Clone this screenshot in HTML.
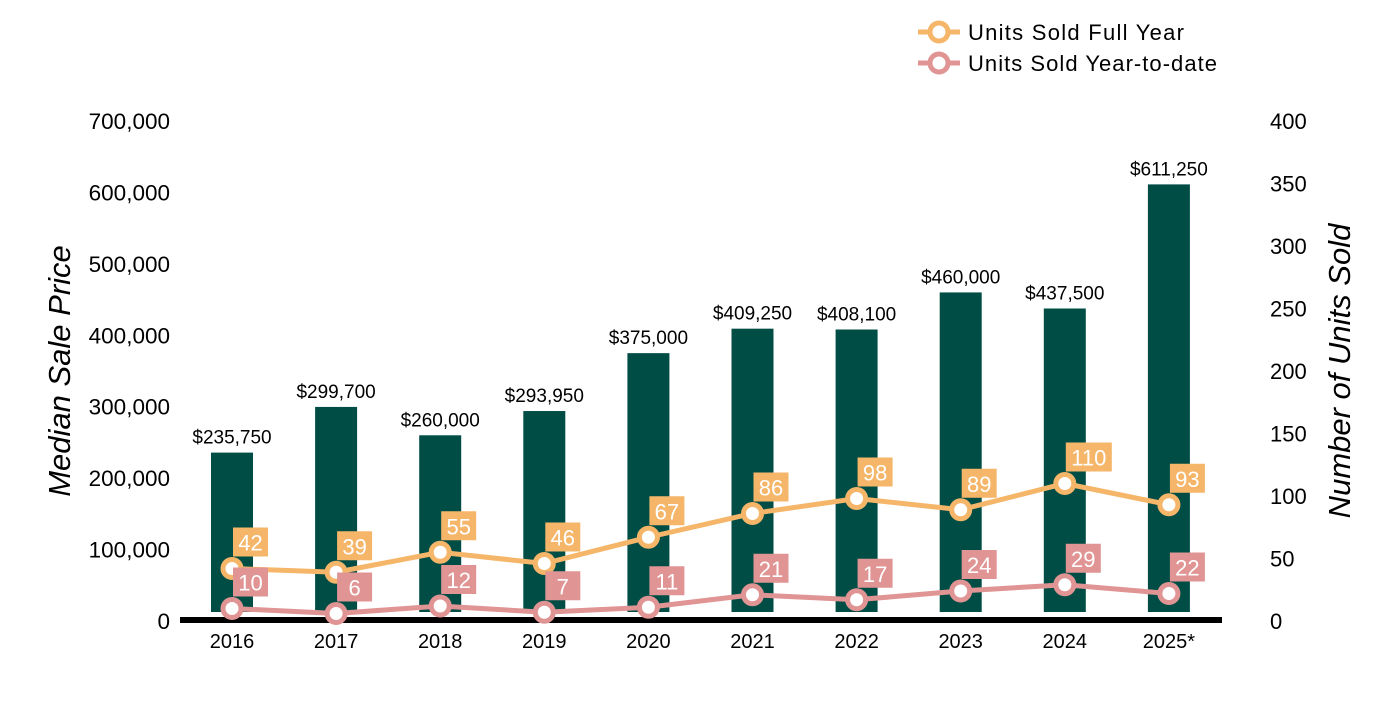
<!DOCTYPE html>
<html><head><meta charset="utf-8"><style>
body{margin:0;background:#fff;}
svg text{font-family:"Liberation Sans",Arial,sans-serif;}
</style></head><body>
<svg id="c" width="1400" height="700" xmlns="http://www.w3.org/2000/svg"></svg>
<script>
const years=["2016","2017","2018","2019","2020","2021","2022","2023","2024","2025*"];
const prices=[235750,299700,260000,293950,375000,409250,408100,460000,437500,611250];
const fullYear=[42,39,55,46,67,86,98,89,110,93];
const ytd=[10,6,12,7,11,21,17,24,29,22];
const leftTicks=[0,100000,200000,300000,400000,500000,600000,700000];
const rightTicks=[0,50,100,150,200,250,300,350,400];
const NS="http://www.w3.org/2000/svg";
const svg=document.getElementById('c');
function el(t,a,txt){const e=document.createElementNS(NS,t);for(const k in a)e.setAttribute(k,a[k]);if(txt!==undefined)e.textContent=txt;svg.appendChild(e);return e;}
const y0=621,yTop=121;
const yL=v=>y0-(v/700000)*(y0-yTop);
const yR=v=>y0-(v/400)*(y0-yTop);
const xC=i=>232+i*104.1;
const fmt=v=>v.toLocaleString('en-US');
leftTicks.forEach(v=>{const t=el('text',{x:170,y:yL(v)+8,'text-anchor':'end','font-size':22.5,fill:'#000'},fmt(v));

});
rightTicks.forEach(v=>{const t=el('text',{x:1270,y:yR(v)+8,'font-size':22,fill:'#000'},String(v));

});
let t=el('text',{x:0,y:0,transform:'translate(70,371) rotate(-90)','text-anchor':'middle','font-size':31,'font-style':'italic',fill:'#000'},'Median Sale Price');

t=el('text',{x:0,y:0,transform:'translate(1350,371) rotate(-90)','text-anchor':'middle','font-size':31,'font-style':'italic',fill:'#000'},'Number of Units Sold');

prices.forEach((p,i)=>{
 const b=el('rect',{x:xC(i)-21,y:yL(p),width:42,height:612-yL(p),fill:'#004D45'});
 
 
 const l=el('text',{x:xC(i),y:yL(p)-9,'text-anchor':'middle','font-size':19,fill:'#000'},'$'+fmt(p));
 
 
});
const ax=el('rect',{x:180,y:617,width:1042,height:6,fill:'#000'});


years.forEach((y,i)=>{const l=el('text',{x:xC(i),y:648,'text-anchor':'middle','font-size':20,fill:'#000'},y);

});
function series(vals,color,name){
 const pl=el('polyline',{points:vals.map((v,i)=>xC(i)+','+yR(v)).join(' '),fill:'none',stroke:color,'stroke-width':5});
 
 
 vals.forEach((v,i)=>{
  const c=el('circle',{cx:xC(i),cy:yR(v),r:9,fill:'#fff',stroke:color,'stroke-width':5});
  
  
  const w=String(v).length>2?46:35;
  const r=el('rect',{x:xC(i)+1,y:yR(v)-41,width:w,height:29,fill:color});
  
  
  const tx=el('text',{x:xC(i)+1+w/2,y:yR(v)-18,'text-anchor':'middle','font-size':22,fill:'#fff'},String(v));
  
  
 });
}
series(fullYear,'#F5B66A','full-year');
series(ytd,'#E09494','ytd');
function legend(y,color,label,name){
 const ln=el('line',{x1:918,y1:y,x2:960,y2:y,stroke:color,'stroke-width':5});
 
 
 const c=el('circle',{cx:939,cy:y,r:9,fill:'#fff',stroke:color,'stroke-width':5});
 
 
 const tx=el('text',{x:968,y:y+8,'font-size':22,textLength:label.length>20?249:216,fill:'#000'},label);
 
 
}
legend(32,'#F5B66A','Units Sold Full Year','full-year');
legend(63,'#E09494','Units Sold Year-to-date','ytd');
</script>
</body></html>
